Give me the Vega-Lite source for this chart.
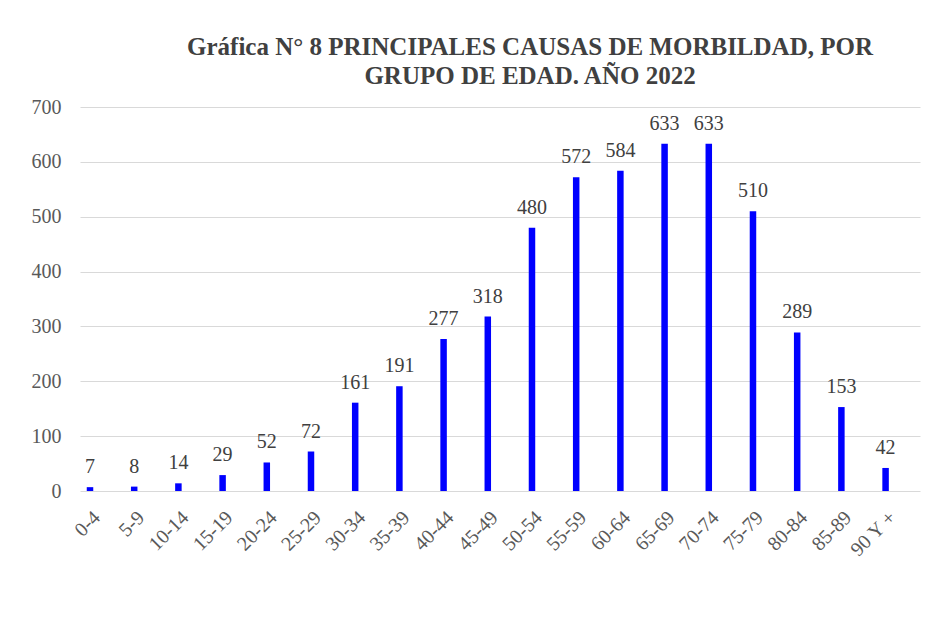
{
  "$schema": "https://vega.github.io/schema/vega-lite/v6.json",
  "autosize": {"type": "none"},
  "width": 840,
  "height": 384,
  "padding": {"left": 80, "top": 107, "right": 10, "bottom": 144},
  "background": "white",
  "title": {
    "text": ["Gráfica N° 8 PRINCIPALES CAUSAS DE MORBILDAD, POR", "GRUPO DE EDAD. AÑO 2022"],
    "font": "'Liberation Serif', 'Times New Roman', serif",
    "fontSize": 25,
    "fontWeight": "bold",
    "color": "#404040",
    "lineHeight": 29,
    "anchor": "middle",
    "dx": 30,
    "offset": 8
  },
  "data": {
    "values": [
      {"grupo": "0-4", "casos": 7},
      {"grupo": "5-9", "casos": 8},
      {"grupo": "10-14", "casos": 14},
      {"grupo": "15-19", "casos": 29},
      {"grupo": "20-24", "casos": 52},
      {"grupo": "25-29", "casos": 72},
      {"grupo": "30-34", "casos": 161},
      {"grupo": "35-39", "casos": 191},
      {"grupo": "40-44", "casos": 277},
      {"grupo": "45-49", "casos": 318},
      {"grupo": "50-54", "casos": 480},
      {"grupo": "55-59", "casos": 572},
      {"grupo": "60-64", "casos": 584},
      {"grupo": "65-69", "casos": 633},
      {"grupo": "70-74", "casos": 633},
      {"grupo": "75-79", "casos": 510},
      {"grupo": "80-84", "casos": 289},
      {"grupo": "85-89", "casos": 153},
      {"grupo": "90 Y +", "casos": 42}
    ]
  },
  "encoding": {
    "x": {
      "field": "grupo",
      "type": "nominal",
      "sort": null,
      "title": null,
      "scale": {"paddingInner": 0.853, "paddingOuter": 0.429, "align": 0.178},
      "axis": {
        "labelAngle": -45,
        "labelFont": "'Liberation Serif', 'Times New Roman', serif",
        "labelFontSize": 20,
        "labelColor": "#595959",
        "ticks": false,
        "domain": false,
        "grid": false,
        "labelPadding": 16
      }
    },
    "y": {
      "field": "casos",
      "type": "quantitative",
      "title": null,
      "scale": {"domain": [0, 700], "nice": false},
      "axis": {
        "values": [0, 100, 200, 300, 400, 500, 600, 700],
        "labelFont": "'Liberation Serif', 'Times New Roman', serif",
        "labelFontSize": 20,
        "labelColor": "#595959",
        "ticks": false,
        "domain": false,
        "grid": true,
        "gridColor": "#d9d9d9",
        "gridWidth": 1,
        "labelPadding": 19
      }
    }
  },
  "layer": [
    {"mark": {"type": "bar", "color": "#0000ff"}},
    {
      "mark": {
        "type": "text",
        "baseline": "bottom",
        "dy": -10,
        "font": "'Liberation Serif', 'Times New Roman', serif",
        "fontSize": 20,
        "color": "#404040"
      },
      "encoding": {"text": {"field": "casos", "type": "quantitative"}}
    }
  ],
  "config": {"view": {"stroke": null}}
}
